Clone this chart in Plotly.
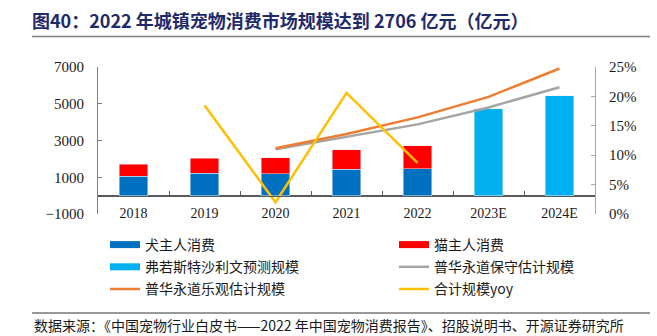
import plotly.graph_objects as go

categories = ["2018", "2019", "2020", "2021", "2022", "2023E", "2024E"]
dog = [1056, 1210, 1181, 1430, 1475, None, None]
cat = [652, 814, 884, 1060, 1231, None, None]
frost = [None, None, None, None, None, 4720, 5430]
pwc_conservative = [None, None, 2520, 3204, 3877, 4800, 5902]
pwc_optimistic = [None, None, 2578, 3350, 4257, 5376, 6918]
total_yoy = [None, 18.5, 2.0, 20.6, 8.7, None, None]

left_ticks = [-1000, 1000, 3000, 5000, 7000]
right_ticks = [0, 5, 10, 15, 20, 25]
right_ticktext = [f"{v}%" for v in right_ticks]
y_range = [-1000, 7000]
y2_range = [0, 25]

C_DOG = "#0070C0"
C_CAT = "#FF0000"
C_FROST = "#00B0F0"
C_GREY = "#A5A5A5"
C_ORANGE = "#ED7D31"
C_YELLOW = "#FFC000"

SERIF = "Liberation Serif"
CJK = "Noto Sans CJK SC"

W, H = 657, 336
ML, MR, MT, MB = 98, 62, 67, 122
PW = W - ML - MR
PH = H - MT - MB


def px_x(px):
    return (px - ML) / PW


def px_y(py):
    return (H - MB - py) / PH


fig = go.Figure()
bw = 0.4
fig.add_trace(go.Bar(x=categories, y=dog, marker_color=C_DOG, width=bw, showlegend=False, name="犬主人消费"))
fig.add_trace(go.Bar(x=categories, y=cat, marker_color=C_CAT, width=bw, showlegend=False, name="猫主人消费"))
fig.add_trace(go.Bar(x=categories, y=frost, marker_color=C_FROST, width=bw, showlegend=False, name="弗若斯特沙利文预测规模"))
fig.add_trace(go.Scatter(x=categories, y=pwc_conservative, mode="lines", line=dict(color=C_GREY, width=2.5),
                         showlegend=False, name="普华永道保守估计规模"))
fig.add_trace(go.Scatter(x=categories, y=pwc_optimistic, mode="lines", line=dict(color=C_ORANGE, width=2.5),
                         showlegend=False, name="普华永道乐观估计规模"))
fig.add_trace(go.Scatter(x=categories, y=total_yoy, mode="lines", line=dict(color=C_YELLOW, width=2.5),
                         yaxis="y2", showlegend=False, name="合计规模yoy"))

# legend entries (wide swatches like the original)
legend_items = [
    ("犬主人消费", C_DOG, 7, "legend"),
    ("弗若斯特沙利文预测规模", C_FROST, 7, "legend"),
    ("普华永道乐观估计规模", C_ORANGE, 2.5, "legend"),
    ("猫主人消费", C_CAT, 7, "legend2"),
    ("普华永道保守估计规模", C_GREY, 2.5, "legend2"),
    ("合计规模yoy", C_YELLOW, 2.5, "legend2"),
]
for i, (nm, col, w, lg) in enumerate(legend_items):
    fig.add_trace(go.Scatter(x=[None], y=[None], mode="lines", line=dict(color=col, width=w),
                             name=nm, legend=lg, legendgroup=f"g{i}", showlegend=True))

# baseline axis at y=0 with boundary ticks (helper trace only defines the axis)
zero_pos = (0 - y_range[0]) / (y_range[1] - y_range[0])
boundaries = [i + 0.5 for i in range(len(categories) - 1)]
fig.add_trace(go.Scatter(x=[0, len(categories) - 1], y=[None, None], xaxis="x2", mode="lines",
                         showlegend=False, hoverinfo="skip"))

fig.update_layout(
    width=W, height=H,
    margin=dict(l=ML, r=MR, t=MT, b=MB, autoexpand=False),
    paper_bgcolor="white", plot_bgcolor="white",
    barmode="stack",
    xaxis=dict(type="category", categoryarray=categories, showline=False, ticks="", showgrid=False,
               anchor="free", position=0.075, tickfont=dict(family=SERIF, size=14, color="#1a1a1a")),
    xaxis2=dict(overlaying="x", anchor="free", position=zero_pos, range=[-0.5, len(categories) - 0.5],
                autorange=False, tickmode="array", tickvals=boundaries, ticks="inside", ticklen=4,
                tickcolor="#595959", showline=True, linecolor="#595959", linewidth=1.3,
                showticklabels=False, showgrid=False, zeroline=False),
    yaxis=dict(range=y_range, tickmode="array", tickvals=left_ticks, ticks="inside", ticklen=4,
               tickcolor="#7f7f7f", showline=True, linecolor="#7f7f7f", showgrid=False, zeroline=True,
               zerolinecolor="#595959", zerolinewidth=1.3,
               ticklabelstandoff=10, tickfont=dict(family=SERIF, size=15, color="#1a1a1a")),
    yaxis2=dict(range=y2_range, overlaying="y", side="right", anchor="x", tickmode="array",
                tickvals=right_ticks, ticktext=right_ticktext, ticks="inside", ticklen=4, tickcolor="#a6a6a6",
                showline=True, linecolor="#a6a6a6", showgrid=False, zeroline=False,
                ticklabelstandoff=10, tickfont=dict(family=SERIF, size=15, color="#1a1a1a")),
    legend=dict(x=px_x(105), y=px_y(229), xanchor="left",
                yanchor="top", orientation="v", font=dict(family=CJK, size=14, color="#1a1a1a"),
                tracegroupgap=1, bgcolor="rgba(0,0,0,0)"),
    legend2=dict(x=px_x(394), y=px_y(229), xanchor="left",
                 yanchor="top", orientation="v", font=dict(family=CJK, size=14, color="#1a1a1a"),
                 tracegroupgap=1, bgcolor="rgba(0,0,0,0)"),
    annotations=[
        dict(text="<b>图40：2022 年城镇宠物消费市场规模达到 2706 亿元（亿元）</b>", xref="paper", yref="paper",
             x=px_x(30), y=px_y(20), xanchor="left", yanchor="middle", showarrow=False,
             font=dict(family=CJK, size=18, color="#1F2A6B")),
        dict(text="数据来源：《中国宠物行业白皮书——2022 年中国宠物消费报告》、招股说明书、开源证券研究所",
             xref="paper", yref="paper", x=px_x(32), y=px_y(325), xanchor="left",
             yanchor="middle", showarrow=False, font=dict(family=CJK, size=14, color="#1a1a1a")),
    ],
    shapes=[
        dict(type="line", xref="paper", yref="paper", x0=px_x(32), x1=px_x(650),
             y0=px_y(36.5), y1=px_y(36.5), line=dict(color="#808080", width=1.5)),
        dict(type="line", xref="paper", yref="paper", x0=px_x(32), x1=px_x(650),
             y0=px_y(313), y1=px_y(313), line=dict(color="#333333", width=1)),
    ],
)

fig.write_html("out.html")
